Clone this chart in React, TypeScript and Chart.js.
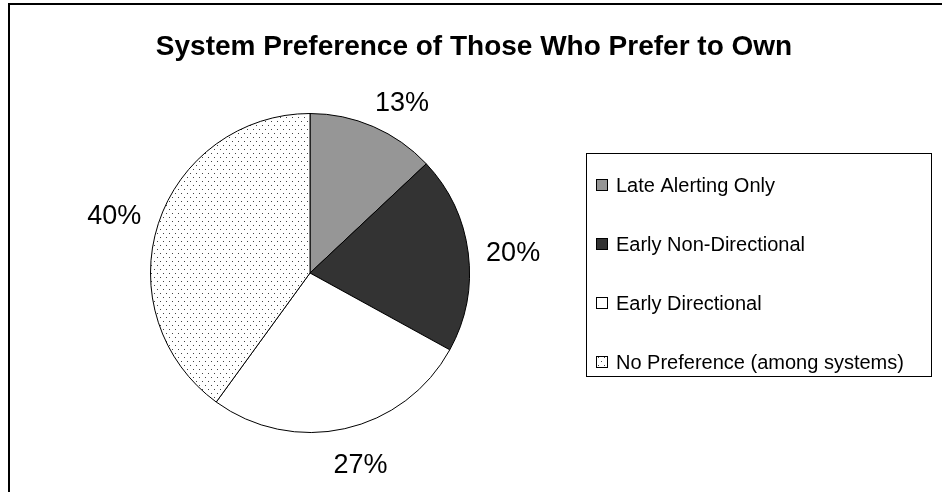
import React, { useEffect, useRef } from "react";
import { Chart, registerables } from "chart.js";

Chart.register(...registerables);

const TITLE = "System Preference of Those Who Prefer to Own";
const categories = [
  "Late Alerting Only",
  "Early Non-Directional",
  "Early Directional",
  "No Preference (among systems)",
];
const values = [13, 20, 27, 40];
const percentLabels = ["13%", "20%", "27%", "40%"];

const FONT = "'Liberation Sans', Arial, sans-serif";

function makeDotPattern(): CanvasPattern | string {
  const c = document.createElement("canvas");
  c.width = 6;
  c.height = 8;
  const x = c.getContext("2d");
  if (!x) return "#fff";
  x.fillStyle = "#ffffff";
  x.fillRect(0, 0, 6, 8);
  x.fillStyle = "#444444";
  x.fillRect(1, 1, 1, 1);
  x.fillRect(4, 5, 1, 1);
  const p = x.createPattern(c, "repeat");
  return p || "#fff";
}

export default function App() {
  const ref = useRef<HTMLCanvasElement | null>(null);

  useEffect(() => {
    document.body.style.margin = "0";
    const canvas = ref.current;
    if (!canvas) return;
    const dots = makeDotPattern();
    const colors: any[] = ["#969696", "#333333", "#ffffff", dots];

    const decor = {
      id: "decor",
      beforeDraw(chart: any) {
        const ctx = chart.ctx;
        ctx.save();
        ctx.fillStyle = "#fff";
        ctx.fillRect(0, 0, chart.width, chart.height);
        ctx.restore();
      },
      afterDraw(chart: any) {
        const ctx = chart.ctx as CanvasRenderingContext2D;
        ctx.save();
        // outer frame
        ctx.strokeStyle = "#000";
        ctx.lineWidth = 2;
        ctx.strokeRect(9, 4, chart.width + 20, chart.height + 20);

        // title
        ctx.fillStyle = "#000";
        ctx.font = `bold 28px ${FONT}`;
        ctx.textAlign = "center";
        ctx.textBaseline = "middle";
        ctx.fillText(TITLE, 474, 47);

        // legend box
        const lx = 586, ly = 153, lw = 345, lh = 223;
        ctx.lineWidth = 1;
        ctx.strokeStyle = "#000";
        ctx.strokeRect(lx + 0.5, ly + 0.5, lw, lh);
        ctx.font = `20px ${FONT}`;
        ctx.textAlign = "left";
        categories.forEach((name, i) => {
          const cy = 185 + i * 59;
          const bx = 596, by = cy - 6;
          ctx.fillStyle = colors[i];
          ctx.fillRect(bx, by, 12, 12);
          ctx.strokeStyle = "#000";
          ctx.strokeRect(bx + 0.5, by + 0.5, 11, 11);
          ctx.fillStyle = "#000";
          ctx.fillText(name, 616, cy + 1);
        });

        // data labels
        const meta = chart.getDatasetMeta(0);
        ctx.font = `27px ${FONT}`;
        ctx.textAlign = "center";
        ctx.textBaseline = "middle";
        const clamp = (v: number) => Math.max(-1, Math.min(1, v));
        meta.data.forEach((arc: any, i: number) => {
          const a = (arc.startAngle + arc.endAngle) / 2;
          const R = arc.outerRadius + 18;
          const ax = arc.x + Math.cos(a) * R;
          const ay = arc.y + Math.sin(a) * R;
          const txt = percentLabels[i];
          const w = ctx.measureText(txt).width;
          const h = 26;
          const cx = ax + (w / 2) * clamp(2 * Math.cos(a));
          const cy = ay + (h / 2) * clamp(2 * Math.sin(a)) + 6;
          ctx.fillStyle = "#000";
          ctx.fillText(txt, cx, cy);
        });
        ctx.restore();
      },
    };

    const chart = new Chart(canvas, {
      type: "pie",
      data: {
        labels: categories,
        datasets: [
          {
            data: values,
            backgroundColor: colors,
            borderColor: "#000",
            borderWidth: 1,
          },
        ],
      },
      options: {
        responsive: false,
        animation: false,
        devicePixelRatio: 1,
        layout: { padding: { left: 150, right: 472, top: 112, bottom: 58 } },
        plugins: {
          legend: { display: false },
          title: { display: false },
          tooltip: { enabled: false },
        },
      },
      plugins: [decor],
    });
    return () => chart.destroy();
  }, []);

  return (
    <canvas
      ref={ref}
      width={942}
      height={492}
      style={{ display: "block", width: 942, height: 492 }}
    />
  );
}
